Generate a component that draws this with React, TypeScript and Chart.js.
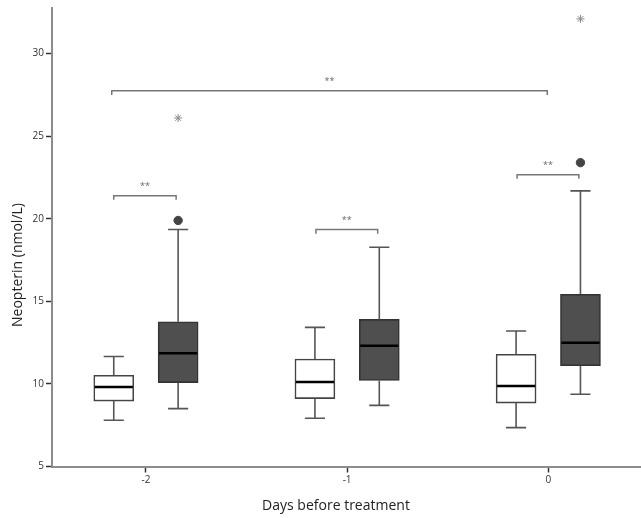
import React, { useEffect, useRef } from "react";
import { Chart, registerables } from "chart.js";

Chart.register(...registerables);

// ---- data ----
const categories = [-2, -1, 0];
const categoryLabels = ["-2", "-1", "0"];

// white boxes
const whiteLow = [7.8, 7.92, 7.35];
const whiteQ1 = [8.96, 9.11, 8.84];
const whiteMedian = [9.81, 10.11, 9.87];
const whiteQ3 = [10.52, 11.5, 11.79];
const whiteHigh = [11.66, 13.42, 13.2];

// dark boxes
const darkLow = [8.5, 8.7, 9.37];
const darkQ1 = [10.08, 10.21, 11.1];
const darkMedian = [11.85, 12.31, 12.49];
const darkQ3 = [13.76, 13.9, 15.42];
const darkHigh = [19.34, 18.27, 21.68];
const darkOutliers: (number | null)[] = [19.89, null, 23.39];
const darkExtremes: (number | null)[] = [26.09, null, 32.09];

const yTickValues = [5, 10, 15, 20, 25, 30];

// significance brackets
const bracketFrom = [-2.16, -1.155, -0.155, -2.17];
const bracketTo = [-1.85, -0.848, 0.152, -0.005];
const bracketLevel = [21.39, 19.34, 22.66, 27.74];
const bracketLabels = ["**", "**", "**", "**"];

const xTitle = "Days before treatment";
const yTitle = "Neopterin (nmol/L)";

// ---- geometry / style constants ----
const GROUP_OFFSET = 0.16;
const CAP_HALF = 0.05;
const MEDIAN_HALF = 0.095;
const BOX_PX = 40;
const BRACKET_TICK = 0.25;
const X_MIN = -2.467;
const X_MAX = 0.456;
const Y_MIN = 5;
const Y_MAX = 32.75;
const FONT = "'Open Sans', 'DejaVu Sans', sans-serif";

type P = { x: number; y: number | null };

function whiskerPoints(xs: number[], low: number[], q1: number[], q3: number[], high: number[]): P[] {
  const pts: P[] = [];
  xs.forEach((x, i) => {
    pts.push({ x, y: low[i] }, { x, y: q1[i] }, { x, y: null });
    pts.push({ x, y: q3[i] }, { x, y: high[i] }, { x, y: null });
    pts.push({ x: x - CAP_HALF, y: low[i] }, { x: x + CAP_HALF, y: low[i] }, { x, y: null });
    pts.push({ x: x - CAP_HALF, y: high[i] }, { x: x + CAP_HALF, y: high[i] }, { x, y: null });
  });
  return pts;
}

function medianPoints(xs: number[], med: number[]): P[] {
  const pts: P[] = [];
  xs.forEach((x, i) => {
    pts.push({ x: x - MEDIAN_HALF, y: med[i] }, { x: x + MEDIAN_HALF, y: med[i] }, { x, y: null });
  });
  return pts;
}

function bracketPoints(): P[] {
  const pts: P[] = [];
  bracketLevel.forEach((lv, i) => {
    pts.push(
      { x: bracketFrom[i], y: lv - BRACKET_TICK },
      { x: bracketFrom[i], y: lv },
      { x: bracketTo[i], y: lv },
      { x: bracketTo[i], y: lv - BRACKET_TICK },
      { x: bracketFrom[i], y: null }
    );
  });
  return pts;
}

const annotationPlugin = {
  id: "annotTexts",
  afterDraw(chart: any) {
    const { ctx, scales, chartArea } = chart;
    const xs = scales.x;
    const ys = scales.y;
    ctx.save();
    // significance labels
    ctx.fillStyle = "#666";
    ctx.font = `9px ${FONT}`;
    ctx.textAlign = "center";
    ctx.textBaseline = "bottom";
    bracketLevel.forEach((lv, i) => {
      const px = xs.getPixelForValue((bracketFrom[i] + bracketTo[i]) / 2);
      const py = ys.getPixelForValue(lv) - 5;
      ctx.fillText(bracketLabels[i], px, py);
    });
    // axis titles
    ctx.fillStyle = "#222";
    ctx.font = `14px ${FONT}`;
    ctx.textBaseline = "middle";
    ctx.fillText(xTitle, chartArea.left + 284, chart.height - 12);
    ctx.translate(18, chartArea.top + 257);
    ctx.rotate(-Math.PI / 2);
    ctx.fillText(yTitle, 0, 0);
    ctx.restore();
  },
};

export default function App() {
  const ref = useRef<HTMLCanvasElement | null>(null);

  useEffect(() => {
    if (!ref.current) return;
    const whiteX = categories.map((c) => c - GROUP_OFFSET);
    const darkX = categories.map((c) => c + GROUP_OFFSET);

    const chart = new Chart(ref.current, {
      type: "bar",
      data: {
        datasets: [
          {
            type: "bar",
            label: "white",
            data: whiteX.map((x, i) => ({ x, y: [whiteQ1[i], whiteQ3[i]] })) as any,
            backgroundColor: "#ffffff",
            borderColor: "#444444",
            borderWidth: 1.6,
            borderSkipped: false,
            barThickness: BOX_PX,
            grouped: false,
            order: 4,
          },
          {
            type: "bar",
            label: "dark",
            data: darkX.map((x, i) => ({ x, y: [darkQ1[i], darkQ3[i]] })) as any,
            backgroundColor: "#4f4f4f",
            borderColor: "#333333",
            borderWidth: 1.6,
            borderSkipped: false,
            barThickness: BOX_PX,
            grouped: false,
            order: 4,
          },
          {
            type: "line",
            label: "whiskers",
            data: [
              ...whiskerPoints(whiteX, whiteLow, whiteQ1, whiteQ3, whiteHigh),
              ...whiskerPoints(darkX, darkLow, darkQ1, darkQ3, darkHigh),
            ] as any,
            borderColor: "#555555",
            borderWidth: 1.6,
            pointRadius: 0,
            spanGaps: false,
            tension: 0,
            order: 3,
          },
          {
            type: "line",
            label: "medians",
            data: [...medianPoints(whiteX, whiteMedian), ...medianPoints(darkX, darkMedian)] as any,
            borderColor: "#000000",
            borderWidth: 2.4,
            pointRadius: 0,
            spanGaps: false,
            order: 1,
          },
          {
            type: "line",
            label: "brackets",
            data: bracketPoints() as any,
            borderColor: "#777777",
            borderWidth: 1.5,
            pointRadius: 0,
            spanGaps: false,
            order: 2,
          },
          {
            type: "line",
            label: "outliers",
            data: darkX.map((x, i) => ({ x, y: darkOutliers[i] })) as any,
            showLine: false,
            pointRadius: 4.2,
            pointBackgroundColor: "#444444",
            pointBorderColor: "#444444",
            pointBorderWidth: 1,
            order: 0,
          },
          {
            type: "line",
            label: "extremes",
            data: darkX.map((x, i) => ({ x, y: darkExtremes[i] })) as any,
            showLine: false,
            pointStyle: "star",
            pointRadius: 4,
            pointBorderColor: "#8a8a8a",
            pointBackgroundColor: "#8a8a8a",
            pointBorderWidth: 1,
            order: 0,
          },
        ],
      },
      options: {
        responsive: false,
        animation: false,
        devicePixelRatio: 1,
        layout: { autoPadding: false, padding: { top: 7, right: 1, left: 0, bottom: 0 } },
        plugins: { legend: { display: false }, tooltip: { enabled: false } },
        scales: {
          x: {
            type: "linear",
            min: X_MIN,
            max: X_MAX,
            offset: false,
            afterFit: (s: any) => {
              s.height = 51.5;
            },
            afterBuildTicks: (s: any) => {
              s.ticks = categories.map((v) => ({ value: v }));
            },
            ticks: {
              callback: (v: any) => {
                const idx = categories.indexOf(Number(v));
                return idx >= 0 ? categoryLabels[idx] : "";
              },
              font: { family: FONT, size: 10 },
              color: "#333",
              padding: 2,
              maxRotation: 0,
            },
            grid: {
              offset: false,
              drawOnChartArea: false,
              drawTicks: true,
              tickLength: 6,
              tickWidth: 1.5,
              tickColor: "#333",
            },
            border: { display: true, color: "#8c8c8c", width: 2 },
          },
          y: {
            type: "linear",
            min: Y_MIN,
            max: Y_MAX,
            afterFit: (s: any) => {
              s.width = 52;
            },
            afterBuildTicks: (s: any) => {
              s.ticks = yTickValues.map((v) => ({ value: v }));
            },
            ticks: {
              font: { family: FONT, size: 10 },
              color: "#333",
              padding: 2,
            },
            grid: {
              drawOnChartArea: false,
              drawTicks: true,
              tickLength: 6,
              tickWidth: 1.5,
              tickColor: "#333",
            },
            border: { display: true, color: "#8c8c8c", width: 2 },
          },
        },
      },
      plugins: [annotationPlugin],
    });
    return () => chart.destroy();
  }, []);

  return (
    <div style={{ position: "absolute", left: 0, top: 0, width: 641, height: 518, background: "#fff" }}>
      <canvas ref={ref} width={641} height={518} />
    </div>
  );
}
